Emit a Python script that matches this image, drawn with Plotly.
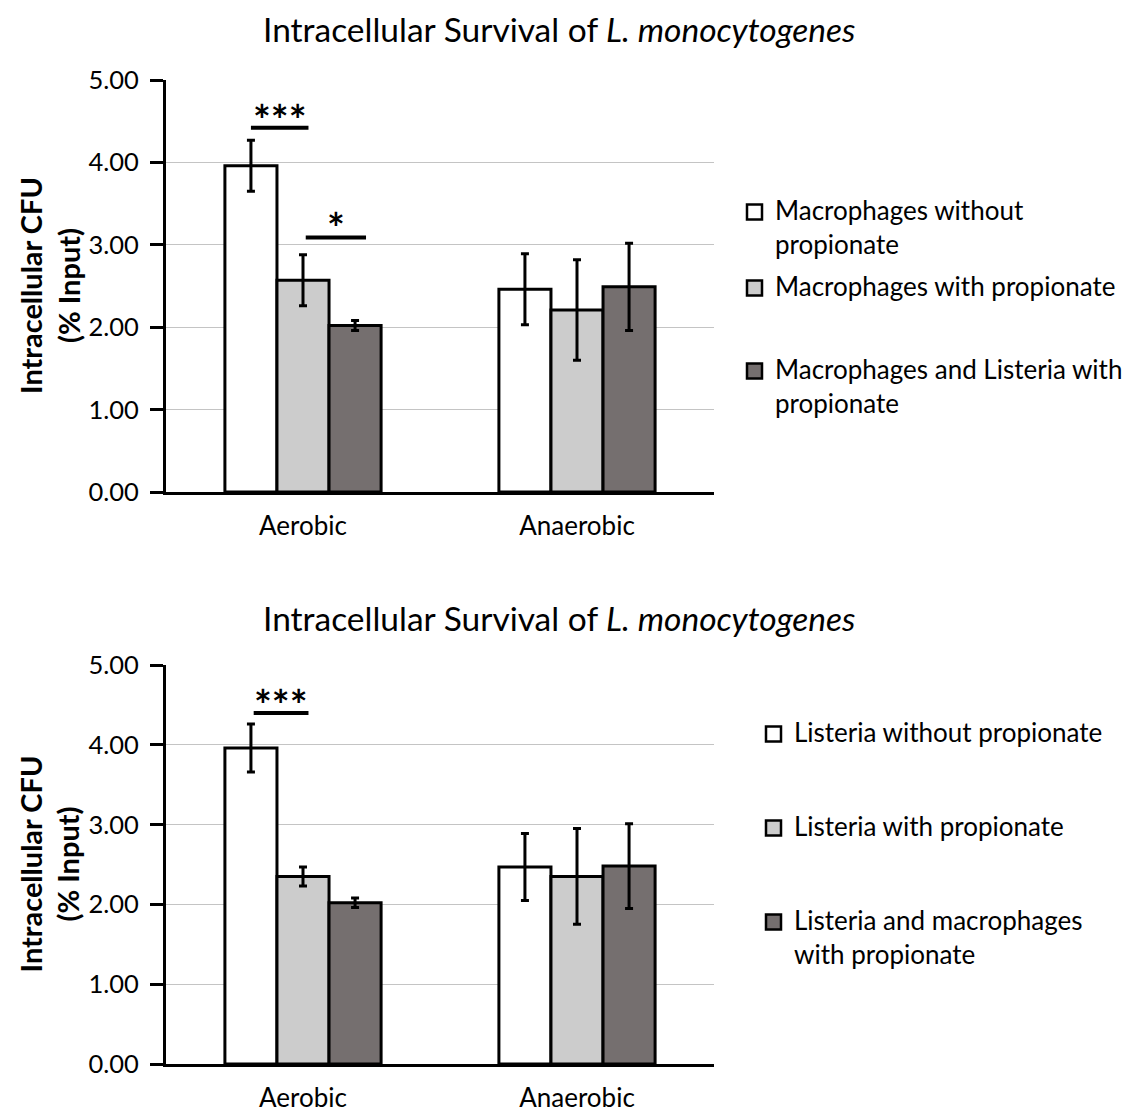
import plotly.graph_objects as go

W, H = 1134, 1112
FONT = "Lato"
OFF = 8  # page body margin offset

categories = ["Aerobic", "Anaerobic"]

top_names = ["Macrophages without<br>propionate", "Macrophages with propionate",
             "Macrophages and Listeria with<br>propionate"]
top_values = [[3.96, 2.46], [2.57, 2.21], [2.02, 2.49]]
top_errors = [[0.31, 0.43], [0.31, 0.61], [0.06, 0.53]]

bot_names = ["Listeria without propionate", "Listeria with propionate",
             "Listeria and macrophages<br>with propionate"]
bot_values = [[3.96, 2.47], [2.35, 2.35], [2.02, 2.48]]
bot_errors = [[0.30, 0.42], [0.12, 0.60], [0.06, 0.53]]

colors = ["#ffffff", "#cccccc", "#756f6f"]
y_ticks = [0, 1, 2, 3, 4, 5]

title_text = "Intracellular Survival of <i>L. monocytogenes</i>"
ytitle = "<b>Intracellular CFU</b><br><b>(% Input)</b>"

# significance markers: (x0, x1 in category units, line y, label, label y)
top_sig = [(-0.19, 0.02, 4.42, "***", 4.51), (0.01, 0.23, 3.09, "*", 3.21)]
bot_sig = [(-0.18, 0.02, 4.40, "***", 4.50)]


def px(x):
    return (x - OFF) / W


def py(y):
    return 1 - (y - OFF) / H


fig = go.Figure()

for names, vals, errs, xa, ya in [(top_names, top_values, top_errors, "x", "y"),
                                   (bot_names, bot_values, bot_errors, "x2", "y2")]:
    for i in range(3):
        fig.add_trace(go.Bar(
            x=categories, y=vals[i], name=names[i].replace("<br>", " "),
            marker=dict(color=colors[i], line=dict(color="black", width=3)),
            error_y=dict(type="data", array=errs[i], color="black", thickness=3, width=4),
            xaxis=xa, yaxis=ya, showlegend=False,
        ))

axis_x = dict(showline=True, linecolor="black", linewidth=3, ticks="", showgrid=False,
              tickfont=dict(family=FONT, size=26, color="black"), ticklabelstandoff=9,
              fixedrange=True, automargin=False)
axis_y = dict(range=[0, 5], tickvals=y_ticks, tickformat=".2f", showline=True,
              linecolor="black", linewidth=3, ticks="outside", ticklen=13, tickwidth=3,
              tickcolor="black", showgrid=True, gridcolor="#c4c4c4", gridwidth=1,
              zeroline=False, tickfont=dict(family=FONT, size=25.5, color="black"),
              ticklabelstandoff=6, automargin=False, fixedrange=True)

xd = [px(166), px(714)]
fig.update_layout(
    width=W, height=H,
    margin=dict(l=0, r=0, t=0, b=0, autoexpand=False),
    paper_bgcolor="white", plot_bgcolor="white",
    barmode="group", bargap=0.43, bargroupgap=0,
    font=dict(family=FONT, color="black"),
    xaxis=dict(domain=xd, anchor="y", **axis_x),
    yaxis=dict(domain=[py(492), py(80)], anchor="x", **axis_y),
    xaxis2=dict(domain=xd, anchor="y2", **axis_x),
    yaxis2=dict(domain=[py(1064), py(665)], anchor="x2", **axis_y),
)

annotations = []
shapes = []

# titles
for ty in [29, 618]:
    annotations.append(dict(text=title_text, x=px(559), y=py(ty), xref="paper", yref="paper",
                            showarrow=False, font=dict(family=FONT, size=33.5, color="black"),
                            xanchor="center", yanchor="middle"))
# y-axis titles
for cy in [(80 + 492) / 2, (665 + 1064) / 2]:
    annotations.append(dict(text=ytitle, x=px(49), y=py(cy), xref="paper", yref="paper",
                            showarrow=False, textangle=-90,
                            font=dict(family=FONT, size=29, color="black"),
                            xanchor="center", yanchor="middle"))

# significance bars
for sigs, xr, yr in [(top_sig, "x", "y"), (bot_sig, "x2", "y2")]:
    for x0, x1, ly, lab, lyy in sigs:
        shapes.append(dict(type="line", x0=x0, x1=x1, y0=ly, y1=ly, xref=xr, yref=yr,
                           line=dict(color="black", width=4)))
        annotations.append(dict(text="<b>" + lab + "</b>", x=(x0 + x1) / 2, y=lyy, xref=xr,
                                yref=yr, showarrow=False,
                                font=dict(family=FONT, size=42, color="black"),
                                xanchor="center", yanchor="middle"))

# manual legends (Excel-style spacing)
top_leg = [(212, 747, 773), (288, 747, 773), (371, 747, 773)]
bot_leg = [(734, 766, 792), (828, 766, 792), (922, 766, 792)]
for names, leg in [(top_names, top_leg), (bot_names, bot_leg)]:
    for i, (ly, sx, tx) in enumerate(leg):
        shapes.append(dict(type="rect", xref="paper", yref="paper",
                           x0=px(sx), x1=px(sx + 15), y0=py(ly + 7.5), y1=py(ly - 7.5),
                           fillcolor=colors[i], line=dict(color="black", width=2.5)))
        annotations.append(dict(text=names[i], x=px(tx), y=py(ly - 20), xref="paper",
                                yref="paper", showarrow=False, align="left",
                                xanchor="left", yanchor="top",
                                font=dict(family=FONT, size=26, color="black")))

fig.update_layout(annotations=annotations, shapes=shapes)
fig.write_html("out.html")
